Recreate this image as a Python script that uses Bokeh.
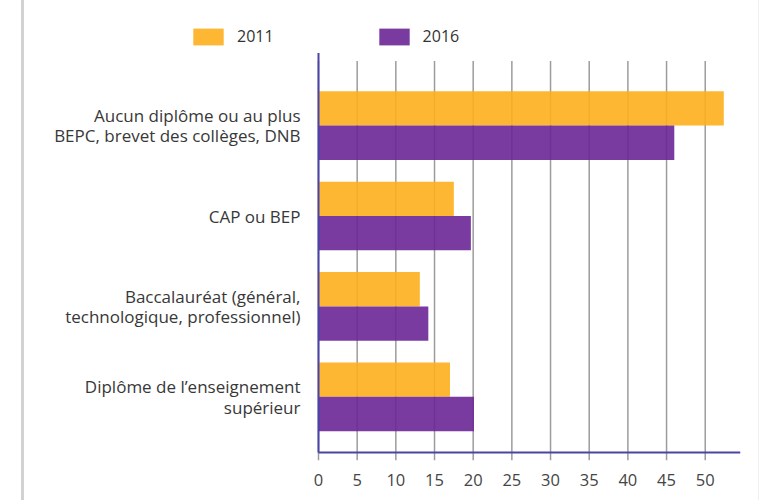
from bokeh.plotting import figure
from bokeh.models import Range1d, FixedTicker, Legend, LegendItem
from bokeh.core.properties import value
from bokeh.embed import file_html
from bokeh.resources import INLINE

# ---- data ----
categories = [
    "Aucun diplôme ou au plus\nBEPC, brevet des collèges, DNB",
    "CAP ou BEP",
    "Baccalauréat (général,\ntechnologique, professionnel)",
    "Diplôme de l’enseignement\nsupérieur",
]
values_2011 = [52.4, 17.5, 13.1, 17.0]
values_2016 = [46.0, 19.7, 14.2, 20.1]
series_names = ["2011", "2016"]
x_ticks = [0, 5, 10, 15, 20, 25, 30, 35, 40, 45, 50]

# ---- style ----
ORANGE = "#FDAF1C"   # blended with alpha -> ~#FDB52E
PURPLE = "#6A2696"   # blended with alpha -> ~#7535A0
AXIS = "#4A44A6"
GRID = "#9c9c9c"
FONT = "Open Sans"
BAR_ALPHA = 0.9

n = len(categories)
ypos = [n - 1 - i for i in range(n)]
off = 0.19
bar_h = 0.38
x_start, x_end = -38.01, 54.56
y_start, y_end = -0.7045, 4.384
axis_top = 3.804
grid_top = 3.716
axis_bottom = -0.616

p = figure(width=738, height=500,
           x_range=Range1d(x_start, x_end), y_range=Range1d(y_start, y_end),
           output_backend="svg", toolbar_location=None,
           min_border_left=0, min_border_right=22,
           min_border_top=0, min_border_bottom=40)
p.margin = (0, 0, 0, 21)
p.styles = {"border-left": "3px solid #d2d2d2", "border-right": "1px solid #efefef"}
p.outline_line_color = None
p.background_fill_color = "white"
p.border_fill_color = "white"
p.xgrid.visible = False
p.ygrid.visible = False
p.yaxis.visible = False

# grid lines at tick values
p.segment(x0=x_ticks, y0=[y_start] * len(x_ticks), x1=x_ticks, y1=[grid_top] * len(x_ticks),
          line_color=GRID, line_width=1.5)

r1 = p.hbar(y=[y + off for y in ypos], left=0, right=values_2011, height=bar_h,
            fill_color=ORANGE, line_color=None, fill_alpha=BAR_ALPHA)
r2 = p.hbar(y=[y - off for y in ypos], left=0, right=values_2016, height=bar_h,
            fill_color=PURPLE, line_color=None, fill_alpha=BAR_ALPHA)

# axis lines
p.segment(x0=[0], y0=[axis_bottom], x1=[0], y1=[axis_top], line_color=AXIS, line_width=2)
p.segment(x0=[0], y0=[axis_bottom], x1=[x_end], y1=[axis_bottom], line_color=AXIS, line_width=2)

# category labels
p.text(x=[0] * n, y=ypos, text=categories, x_offset=-18,
       text_align="right", text_baseline="middle",
       text_font=value(FONT), text_font_size="17px", text_color="#383838",
       text_line_height=0.9)

# x axis (labels only)
xa = p.xaxis[0]
xa.ticker = FixedTicker(ticks=x_ticks)
xa.axis_line_color = None
xa.major_tick_line_color = None
xa.minor_tick_line_color = None
xa.major_tick_out = 0
xa.major_tick_in = 0
xa.major_label_standoff = 13
xa.major_label_text_font = FONT
xa.major_label_text_font_size = "16.5px"
xa.major_label_text_color = "#454545"

legend = Legend(items=[LegendItem(label=series_names[0], renderers=[r1]),
                       LegendItem(label=series_names[1], renderers=[r2])],
                orientation="horizontal", location=(165, 413),
                glyph_width=38, glyph_height=21, label_height=21,
                label_standoff=10, spacing=101, padding=0, margin=0,
                border_line_color=None, background_fill_alpha=0,
                label_text_font=FONT, label_text_font_size="16px",
                label_text_color="#333333")
p.add_layout(legend)

open("out.html", "w").write(file_html(p, INLINE))
